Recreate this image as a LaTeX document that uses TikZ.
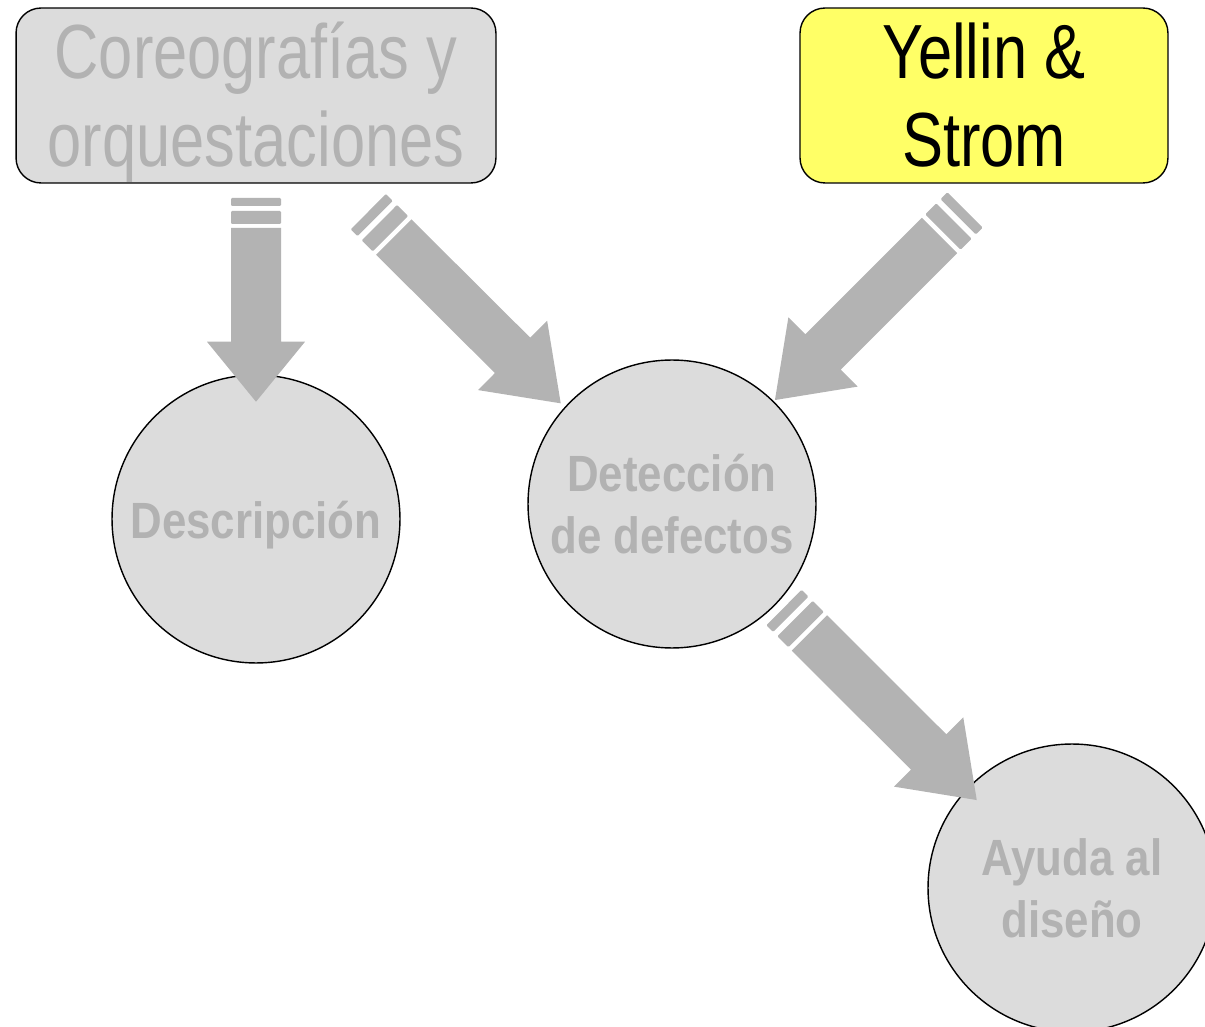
\documentclass[tikz,border=0pt]{standalone}
\usepackage{fontspec}
\setmainfont{Liberation Sans}[FakeStretch=0.8, BoldFeatures={FakeStretch=0.86}]
\usepackage{tikz}
\usetikzlibrary{calc}

\definecolor{boxgray}{HTML}{DCDCDC}
\definecolor{textgray}{HTML}{B2B2B2}
\definecolor{arrowgray}{HTML}{B3B3B3}
\definecolor{notepad}{HTML}{FFFF66}

% struts that fix where the lines sit in a node
\newcommand{\upstrut}[1]{\rule{0pt}{#1}}
\newcommand{\downstrut}[1]{\rule[-#1]{0pt}{#1}}

\begin{document}
\begin{tikzpicture}[x=0.02cm, y=-0.02cm,
    topbox/.style={draw=black, line width=0.8pt, rounded corners=0.5cm, align=center,
        font=\fontsize{43.7}{50}\selectfont, inner sep=0pt},
    topic/.style={circle, draw=black, line width=0.8pt, fill=boxgray, text=textgray,
        minimum size=5.76cm, inner sep=0pt, align=center,
        font=\fontsize{29}{35}\selectfont\bfseries}]

    \newcommand{\stripearrow}[4]{% tail, tip, head length, stripe scale
        \pgfpointdiff{\pgfpointanchor{#1}{center}}{\pgfpointanchor{#2}{center}}%
        \pgfgetlastxy{\arrdx}{\arrdy}%
        \pgfmathsetmacro{\arrang}{atan2(\arrdy,\arrdx)}%
        \pgfmathsetmacro{\arrlen}{veclen(\arrdx,\arrdy)/0.569055}%
        \begin{scope}[shift={(#1)}, rotate=\arrang, x=0.02cm, y=0.02cm]
            \fill[arrowgray, rounded corners=0.6pt] (0,-25) rectangle (8*#4,25);
            \fill[arrowgray, rounded corners=0.6pt] (13*#4,-25) rectangle (26*#4,25);
            \fill[arrowgray] (30*#4,-25) -- (\arrlen-#3,-25) -- (\arrlen-#3,-49) -- (\arrlen,0)
                -- (\arrlen-#3,49) -- (\arrlen-#3,25) -- (30*#4,25) -- cycle;
        \end{scope}}

    \useasboundingbox (0,0) rectangle (1205,1027);

    % sources
    \node[topbox, fill=boxgray, text=textgray, minimum width=9.6cm, minimum height=3.5cm]
        (coreo) at (256,95.5) {\upstrut{39.7pt}\smash{Coreografías y}\\\smash{orquestaciones}\downstrut{9.3pt}};
    \node[topbox, fill=notepad, text=black, minimum width=7.36cm, minimum height=3.5cm]
        (yellin) at (984,95.5) {\upstrut{39.7pt}\smash{Yellin \&}\\\smash{Strom}\downstrut{9.3pt}};

    % uses
    \node[topic] (desc) at (256,519) {\upstrut{30pt}Descripción\downstrut{8pt}};
    \node[topic] (detect) at (672,504) {\upstrut{30pt}Detección\\de defectos\downstrut{9.2pt}};
    \node[topic] (help) at (1072,888) {\upstrut{30pt}Ayuda al\\diseño\downstrut{9.2pt}};

    % arrow ends
    \coordinate (descTail) at (256,198);
    \coordinate (descTip) at (256,401.7);
    \coordinate (coreoTail) at (368.3,211.7);
    \coordinate (coreoTip) at (560.7,403.3);
    \coordinate (yellinTail) at (965,210);
    \coordinate (yellinTip) at (775,400);
    \coordinate (helpTail) at (784,607.5);
    \coordinate (helpTip) at (976.7,800);

    \stripearrow{descTail}{descTip}{60}{1}       % Coreografías -> Descripción
    \stripearrow{coreoTail}{coreoTip}{68}{1.2}   % Coreografías -> Detección
    \stripearrow{yellinTail}{yellinTip}{68}{1.2} % Yellin & Strom -> Detección
    \stripearrow{helpTail}{helpTip}{68}{1.2}     % Detección -> Ayuda al diseño

\end{tikzpicture}
\end{document}
